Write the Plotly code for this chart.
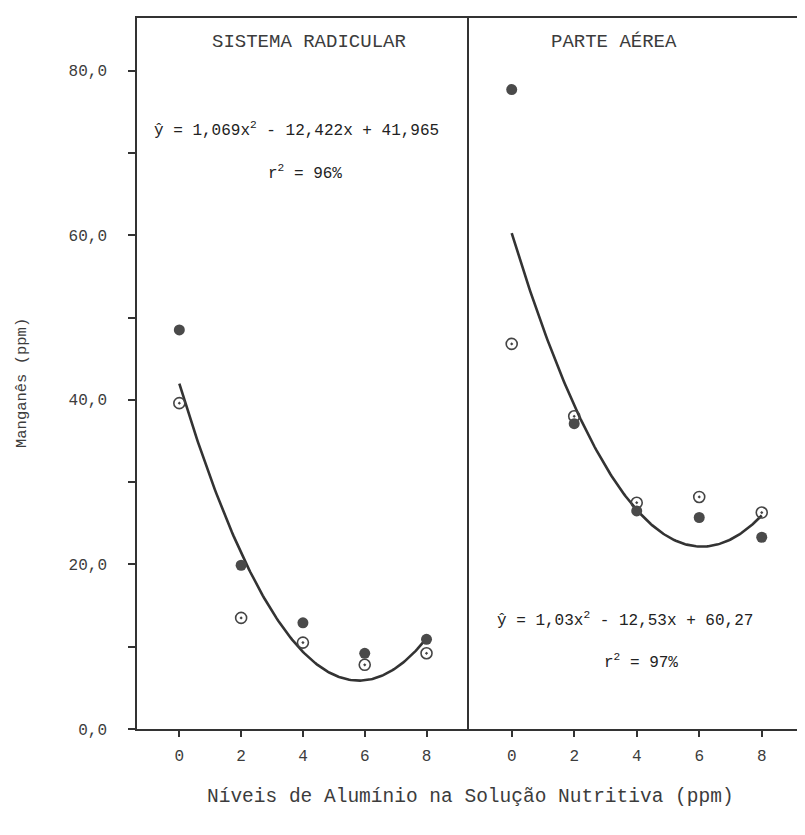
import numpy as np
import plotly.graph_objects as go
from plotly.subplots import make_subplots

# ---- data ----
levels = [0, 2, 4, 6, 8]                       # Alumínio (ppm)
raiz_cheio = [48.5, 19.9, 12.9, 9.2, 10.9]     # Sistema radicular, símbolo cheio
raiz_vazio = [39.6, 13.5, 10.5, 7.8, 9.2]      # Sistema radicular, símbolo vazio
aerea_cheio = [77.7, 37.1, 26.5, 25.7, 23.3]   # Parte aérea, símbolo cheio
aerea_vazio = [46.8, 38.0, 27.5, 28.2, 26.3]   # Parte aérea, símbolo vazio
coef_raiz = [1.069, -12.422, 41.965]           # ŷ = a x² + b x + c
coef_aerea = [1.03, -12.53, 60.27]
panel_titles = ["SISTEMA RADICULAR", "PARTE AÉREA"]
y_tickvals = [0, 20, 40, 60, 80]
y_ticktext = ["0,0", "20,0", "40,0", "60,0", "80,0"]
y_minor_vals = [10, 30, 50, 70]
x_tickvals = [0, 2, 4, 6, 8]
x_ticktext = ["0", "2", "4", "6", "8"]

FONT = "Liberation Mono"
INK = "#333333"
TXT = "#3c3c3c"

OFF = 8  # page body margin
W, H = 797, 827
# plot area in page (reference) pixels: x 137..803, y 18..729
L, T = 137 - OFF, 18 - OFF
R = W - (803 - OFF)
B = H - (729 - OFF)
split = (467 - 137) / (803 - 137)

fig = make_subplots(rows=1, cols=2, shared_yaxes=True, horizontal_spacing=0,
                    column_widths=[split, 1 - split])

xs = np.linspace(0, 8, 161)
for col, (cheio, vazio, coef) in enumerate(
        [(raiz_cheio, raiz_vazio, coef_raiz), (aerea_cheio, aerea_vazio, coef_aerea)], start=1):
    fig.add_trace(go.Scatter(x=xs, y=np.polyval(coef, xs), mode="lines",
                             line=dict(color=INK, width=2.6), hoverinfo="skip",
                             showlegend=False), row=1, col=col)
    fig.add_trace(go.Scatter(x=levels, y=vazio, mode="markers",
                             marker=dict(symbol="circle-open-dot", size=11, color="#444444",
                                         line=dict(width=1.6, color="#444444")),
                             showlegend=False), row=1, col=col)
    fig.add_trace(go.Scatter(x=levels, y=cheio, mode="markers",
                             marker=dict(symbol="circle", size=11, color="#4a4a4a"),
                             showlegend=False), row=1, col=col)

axis_common = dict(showline=True, linecolor=INK, linewidth=1.6,
                   showgrid=False, zeroline=False)

fig.update_xaxes(**axis_common, mirror=True, tickvals=x_tickvals, ticktext=x_ticktext,
                 ticks="outside", ticklen=6, tickwidth=1.5, tickcolor=INK,
                 tickfont=dict(family=FONT, size=16, color=TXT), ticklabelstandoff=5)
fig.update_xaxes(range=[-1.37, 9.31], row=1, col=1)
fig.update_xaxes(range=[-1.43, 9.32], row=1, col=2)

fig.update_yaxes(**axis_common, range=[0, 86.4])
fig.update_yaxes(mirror=True, tickvals=y_tickvals, ticktext=y_ticktext, ticks="outside",
                 ticklen=7, tickwidth=1.5, tickcolor=INK,
                 minor=dict(tickvals=y_minor_vals, ticks="outside", ticklen=7,
                            tickwidth=1.5, tickcolor=INK, showgrid=False),
                 tickfont=dict(family=FONT, size=16, color=TXT), ticklabelstandoff=18,
                 row=1, col=1)
fig.update_yaxes(side="right", mirror=False, ticks="", showticklabels=False, row=1, col=2)

ann = []
title_font = dict(family=FONT, size=19, color=TXT)
ann.append(dict(x=4.2, y=83.5, xref="x", yref="y", text=panel_titles[0], showarrow=False,
                font=title_font))
ann.append(dict(x=3.27, y=83.5, xref="x2", yref="y", text=panel_titles[1], showarrow=False,
                font=title_font))
eq_font = dict(family=FONT, size=16, color="#222222")
ann.append(dict(x=3.8, y=72.8, xref="x", yref="y", showarrow=False, font=eq_font,
                text="ŷ = 1,069x<sup>2</sup> - 12,422x + 41,965"))
ann.append(dict(x=4.07, y=67.6, xref="x", yref="y", showarrow=False, font=eq_font,
                text="r<sup>2</sup> = 96%"))
ann.append(dict(x=3.63, y=13.3, xref="x2", yref="y", showarrow=False, font=eq_font,
                text="ŷ = 1,03x<sup>2</sup> - 12,53x + 60,27"))
ann.append(dict(x=4.14, y=8.2, xref="x2", yref="y", showarrow=False, font=eq_font,
                text="r<sup>2</sup> = 97%"))

pw, ph = 803 - 137, 729 - 18
def px(x):
    return (x - 137) / pw
def py(y):
    return (729 - y) / ph

ann.append(dict(x=px(470), y=py(797), xref="paper", yref="paper", showarrow=False,
                xanchor="center", yanchor="middle",
                text="Níveis de Alumínio na Solução Nutritiva (ppm)",
                font=dict(family=FONT, size=19.5, color=TXT)))
ann.append(dict(x=px(22), y=py(383), xref="paper", yref="paper", showarrow=False,
                xanchor="center", yanchor="middle",
                text="Manganês (ppm)", textangle=-90,
                font=dict(family=FONT, size=15.5, color=TXT)))

fig.update_layout(width=W, height=H, margin=dict(l=L, r=R, t=T, b=B, autoexpand=False),
                  paper_bgcolor="white", plot_bgcolor="white", annotations=ann,
                  showlegend=False)

fig.write_html("out.html")
